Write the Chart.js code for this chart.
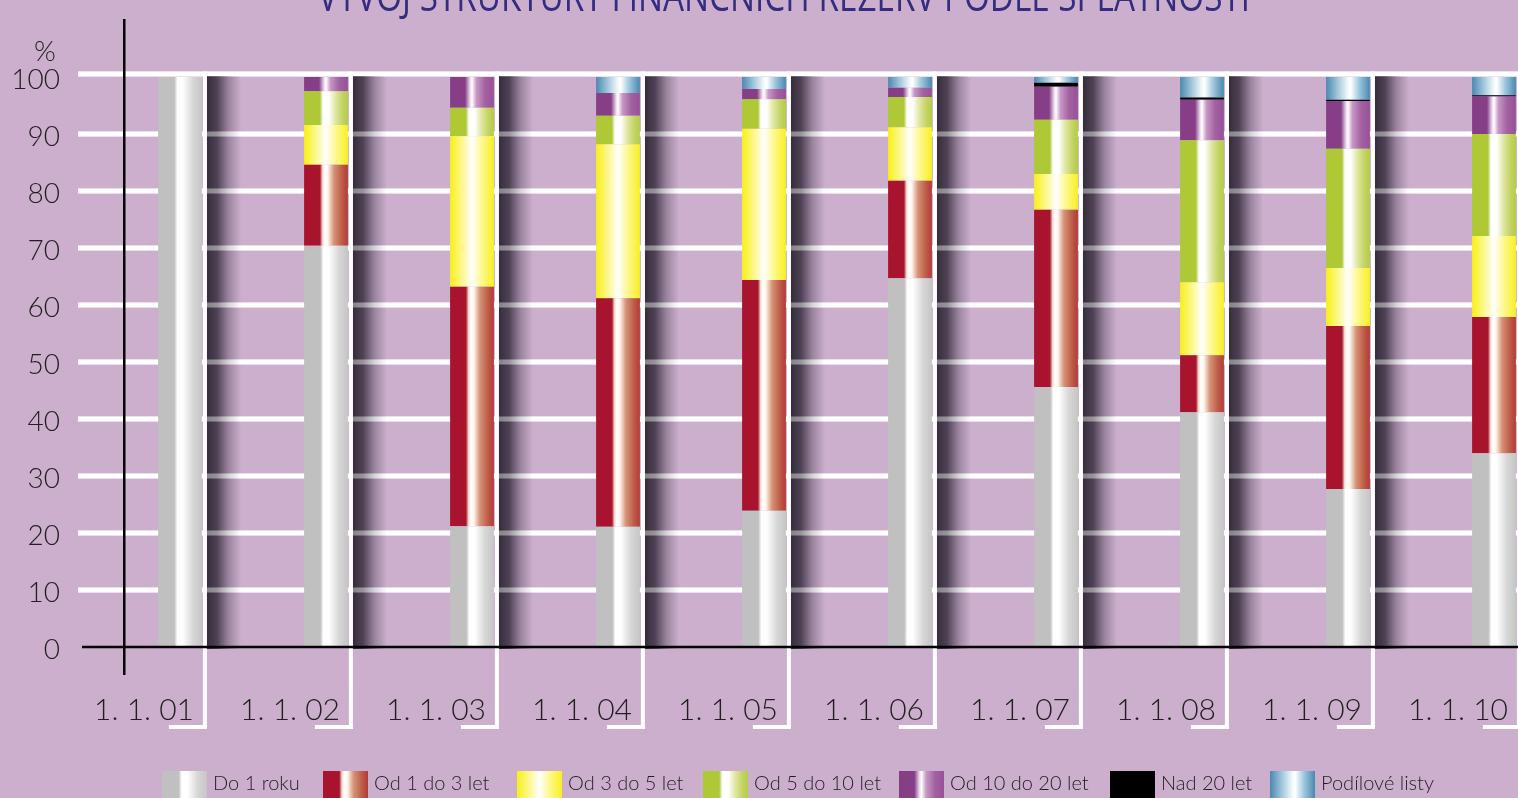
<!DOCTYPE html>
<html>
<head>
<meta charset="utf-8">
<script src="https://cdn.jsdelivr.net/npm/chart.js@4/dist/chart.umd.min.js"></script>
<style>
html,body{margin:0;padding:0;background:#cbafcd;overflow:hidden;width:1518px;height:798px;}
#wrap{position:relative;width:1518px;height:798px;overflow:hidden;}
#c{position:absolute;left:0;top:0;}
#legend{position:absolute;left:0;top:771px;width:1518px;height:30px;font-family:Lato,'Open Sans',sans-serif;font-weight:300;font-size:20px;color:#231f20;white-space:nowrap;}
.item{position:absolute;top:0;display:flex;align-items:flex-start;gap:6px;}
.sw{width:45px;height:30px;}
.lbl{line-height:22px;}
</style>
</head>
<body>
<div id="wrap">
<canvas id="c" width="1567" height="798"></canvas>
<div id="legend"></div>
</div>
<script>
// ---- data ----
const titleText = 'VÝVOJ STRUKTURY FINANČNÍCH REZERV PODLE SPLATNOSTI';
const categories = ['1. 1. 01','1. 1. 02','1. 1. 03','1. 1. 04','1. 1. 05','1. 1. 06','1. 1. 07','1. 1. 08','1. 1. 09','1. 1. 10'];
const seriesNames = ['Do 1 roku','Od 1 do 3 let','Od 3 do 5 let','Od 5 do 10 let','Od 10 do 20 let','Nad 20 let','Podílové listy'];
const do1Roku   = [100, 70.4, 21.2, 21.1, 23.9, 64.7, 45.6, 41.2, 27.7, 34.0];
const od1do3    = [0,   14.2, 42.0, 40.1, 40.5, 17.1, 31.1, 10.0, 28.6, 23.9];
const od3do5    = [0,    7.0, 26.4, 27.0, 26.5,  9.4,  6.3, 12.8, 10.2, 14.2];
const od5do10   = [0,    5.9,  5.0,  5.0,  5.2,  5.3,  9.5, 24.9, 20.9, 17.9];
const od10do20  = [0,    2.5,  5.4,  4.0,  1.8,  1.6,  5.8,  7.1,  8.4,  6.6];
const nad20     = [0,    0,    0,    0,    0,    0,    0.7,  0.4,  0.2,  0.2];
const podilove  = [0,    0,    0,    2.8,  2.1,  1.9,  1.0,  3.6,  4.0,  3.2];
const yTicks    = [0,10,20,30,40,50,60,70,80,90,100];

// ---- styles ----
const BAR_PCT = 0.30;
const legendLeft = [162, 323, 517, 703, 899, 1110, 1270];
const palette = [
  [[0,'#c0c0c0'],[0.37,'#c0c0c0'],[0.44,'#ffffff'],[0.56,'#ffffff'],[0.8,'#d6d6d6'],[1,'#c6c6c6']],
  [[0,'#a8132d'],[0.36,'#a8132d'],[0.42,'#f6d8cc'],[0.47,'#ffffff'],[0.54,'#fff6f0'],[0.68,'#d49478'],[0.85,'#c0604a'],[1,'#b23a38']],
  [[0,'#f8f018'],[0.3,'#fdf89a'],[0.5,'#ffffff'],[0.72,'#fdf890'],[1,'#f8f020']],
  [[0,'#aec836'],[0.36,'#aec836'],[0.43,'#ffffff'],[0.56,'#ffffff'],[0.72,'#dfe6a0'],[0.87,'#c4d466'],[1,'#b4cc44']],
  [[0,'#863e87'],[0.34,'#863e87'],[0.46,'#efe0ef'],[0.5,'#ffffff'],[0.6,'#c898c6'],[0.8,'#a262a0'],[1,'#98509a']],
  [[0,'#000000'],[1,'#000000']],
  [[0,'#4a88b0'],[0.28,'#a6cade'],[0.5,'#f4f9fc'],[0.56,'#ffffff'],[0.76,'#9cc6dc'],[1,'#4a88b0']]
];
const seriesData = [do1Roku, od1do3, od3do5, od5do10, od10do20, nad20, podilove];

function barFill(stops){
  return function(ctx){
    const chart = ctx.chart;
    const xs = chart.scales && chart.scales.x;
    if (!xs || ctx.type !== 'data' || !xs.width) return stops[0][1];
    const c = xs.getPixelForValue(ctx.dataIndex);
    const w = xs.width / categories.length * BAR_PCT;
    const g = chart.ctx.createLinearGradient(c - w/2, 0, c + w/2, 0);
    stops.forEach(s => g.addColorStop(s[0], s[1]));
    return g;
  };
}

const decor = {
  id: 'decor',
  beforeDatasetsDraw(chart){
    const {ctx, scales:{x, y}} = chart;
    const W = chart.width;
    const n = categories.length;
    const bw = x.width / n * BAR_PCT;
    const top = y.getPixelForValue(100);
    const bottom = y.getPixelForValue(0);
    const gridYs = yTicks.filter(v => v > 0).map(v => y.getPixelForValue(v) - (v === 100 ? 3 : 0));
    ctx.save();
    ctx.fillStyle = '#ffffff';
    gridYs.forEach(py => ctx.fillRect(78, py - 2.5, W - 78, 5));
    for (let i = 0; i < n; i++) {
      const r = x.getPixelForValue(i) + bw / 2;
      const sx = r + 5;
      const g = ctx.createLinearGradient(sx, 0, sx + 34, 0);
      g.addColorStop(0, 'rgba(50,42,56,0.98)');
      g.addColorStop(0.3, 'rgba(56,46,62,0.85)');
      g.addColorStop(0.65, 'rgba(70,58,76,0.35)');
      g.addColorStop(1, 'rgba(70,58,76,0)');
      ctx.fillStyle = g;
      ctx.fillRect(sx, top - 1, 34, bottom - top + 3);
    }
    ctx.fillStyle = 'rgba(255,255,255,0.4)';
    gridYs.forEach(py => ctx.fillRect(78, py - 2.5, W - 78, 5));
    ctx.fillStyle = '#ffffff';
    for (let i = 0; i < n; i++) {
      const r = x.getPixelForValue(i) + bw / 2;
      ctx.fillRect(r + 1, top - 5.5, 4, 729 - (top - 5.5));
      ctx.fillRect(r - 33, 725, 38, 4);
    }
    ctx.restore();
  },
  afterDatasetsDraw(chart){
    const {ctx, scales:{y}} = chart;
    const W = chart.width;
    const y0 = y.getPixelForValue(0);
    ctx.save();
    ctx.fillStyle = '#000000';
    ctx.fillRect(82, y0 - 1.25, W - 82, 2.5);
    ctx.fillRect(123, 19, 2.5, 656);
    ctx.fillStyle = '#231f20';
    ctx.font = '300 28px Lato, "Open Sans", sans-serif';
    ctx.textAlign = 'center';
    ctx.textBaseline = 'alphabetic';
    ctx.fillText('%', 45, 61);
    // title (top part cropped as in the reference)
    ctx.font = '42px "Open Sans", sans-serif';
    const tw = ctx.measureText(titleText).width;
    const target = 932;
    ctx.translate(318, 11);
    ctx.scale(target / tw, 1);
    ctx.textAlign = 'left';
    ctx.fillStyle = '#342c7e';
    ctx.fillText(titleText, 0, 0);
    ctx.restore();
  }
};

const datasets = seriesNames.map((name, i) => ({
  label: name,
  data: seriesData[i],
  backgroundColor: barFill(palette[i]),
  borderWidth: 0,
  barPercentage: BAR_PCT,
  categoryPercentage: 1.0
}));

new Chart(document.getElementById('c'), {
  type: 'bar',
  data: { labels: categories, datasets },
  options: {
    responsive: false,
    animation: false,
    events: [],
    layout: { padding: { left: 0, right: 0, top: 77, bottom: 0 } },
    plugins: { legend: { display: false }, tooltip: { enabled: false }, title: { display: false } },
    scales: {
      x: {
        stacked: true,
        grid: { display: false, drawTicks: false },
        border: { display: false },
        afterFit(s){ s.height = 151; },
        ticks: {
          autoSkip: false, maxRotation: 0, minRotation: 0,
          align: 'end', labelOffset: 14, padding: 45,
          color: '#231f20',
          font: { family: 'Lato, "Open Sans", sans-serif', size: 30, weight: '300' }
        }
      },
      y: {
        stacked: true,
        min: 0, max: 100,
        grid: { display: false, drawTicks: false },
        border: { display: false },
        afterFit(s){ s.width = 107; },
        afterBuildTicks(s){ s.ticks = yTicks.map(v => ({ value: v })); },
        ticks: {
          padding: 47, labelOffset: 3,
          color: '#231f20',
          font: { family: 'Lato, "Open Sans", sans-serif', size: 28, weight: '300' }
        }
      }
    }
  },
  plugins: [decor]
});

// HTML legend
const cssGrad = st => 'linear-gradient(to right,' + st.map(s => s[1] + ' ' + (s[0]*100) + '%').join(',') + ')';
const leg = document.getElementById('legend');
seriesNames.forEach((name, i) => {
  const it = document.createElement('div'); it.className = 'item'; it.style.left = legendLeft[i] + 'px';
  const sw = document.createElement('div'); sw.className = 'sw'; sw.style.background = cssGrad(palette[i]);
  const lb = document.createElement('div'); lb.className = 'lbl'; lb.textContent = name;
  it.appendChild(sw); it.appendChild(lb); leg.appendChild(it);
});
</script>
</body>
</html>
